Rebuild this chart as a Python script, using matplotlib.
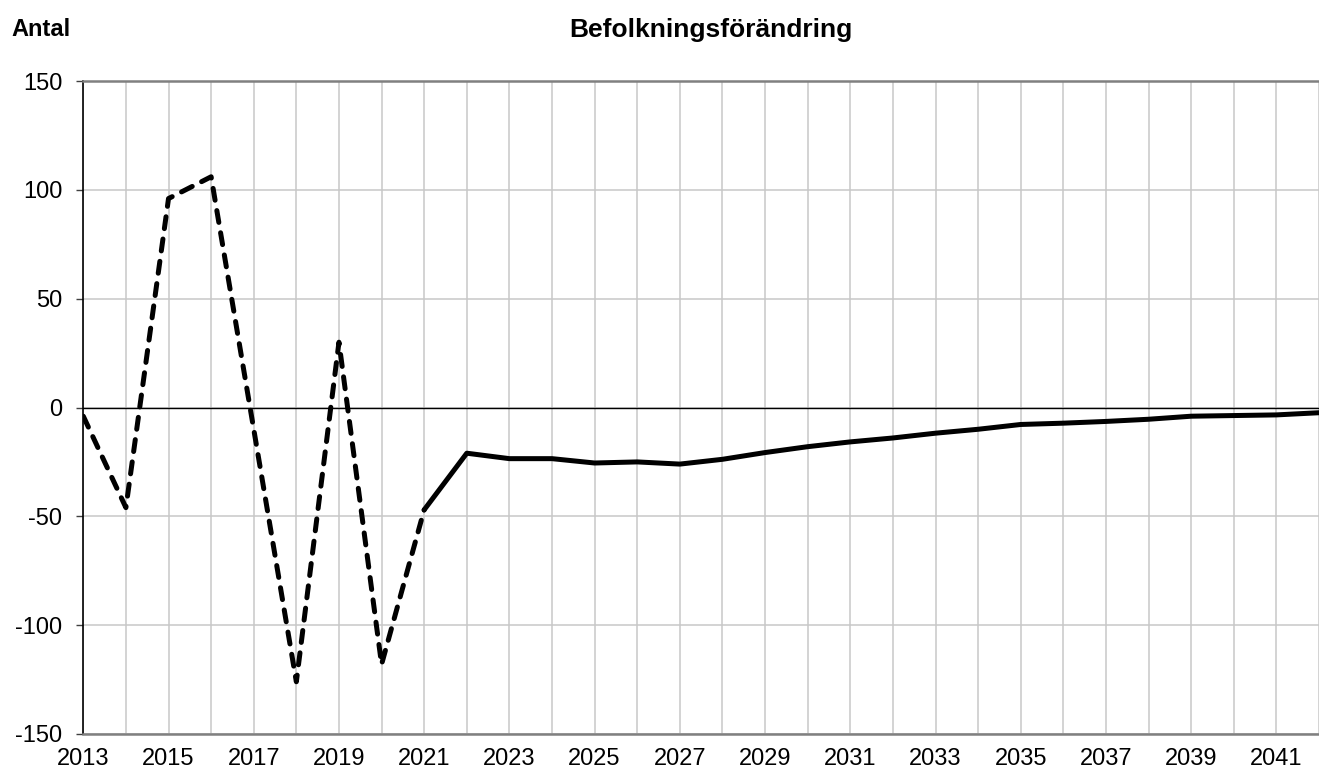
import matplotlib
matplotlib.use("Agg")
import matplotlib.pyplot as plt
import numpy as np

plt.rcParams['font.family'] = ['Liberation Sans', 'DejaVu Sans']

# utfall (streckad) och prognos (heldragen)
hist_years = list(range(2013, 2022))
hist_vals = [-4, -46, 96, 106, -10, -126, 30, -118, -47]

prog_years = list(range(2021, 2043))
prog_vals = [-47, -21, -23.5, -23.5, -25.5, -25, -26, -23.8, -20.7, -18,
             -15.8, -14, -11.8, -10, -7.8, -7.2, -6.4, -5.4, -4, -3.7,
             -3.4, -2.4]

y_ticks = [-150, -100, -50, 0, 50, 100, 150]
y_labels = ["-150", "-100", "-50", "0", "50", "100", "150"]
all_years = list(range(2013, 2043))
x_labels = [str(y) if (y - 2013) % 2 == 0 else "" for y in all_years]

title = "Befolkningsförändring"
ylab = "Antal"

fig = plt.figure(figsize=(13.19, 7.73), dpi=100)
ax = fig.add_axes([83.3 / 1319, 1 - 734 / 773, 1 - 83.3 / 1319, (734 - 81) / 773])

ax.set_xlim(2013, 2041.70)
ax.set_ylim(-150, 150)

ax.set_yticks(y_ticks)
ax.set_yticklabels(y_labels)
ax.set_xticks(all_years)
ax.set_xticklabels(x_labels)

ax.grid(True, color="#c8c8c8", linewidth=1.1)
ax.set_axisbelow(True)
ax.axhline(0, color="black", linewidth=1.0, zorder=2)

ax.plot(hist_years, hist_vals, color="black", linewidth=3.6,
        linestyle=(0, (2.4, 2.1)), dash_capstyle="round",
        dash_joinstyle="round", zorder=3)
ax.plot(prog_years, prog_vals, color="black", linewidth=3.6,
        solid_capstyle="round", solid_joinstyle="round", zorder=3)

for s in ["top", "bottom"]:
    ax.spines[s].set_color("#808080")
    ax.spines[s].set_linewidth(1.8)
ax.spines["right"].set_visible(False)
ax.spines["left"].set_color("black")
ax.spines["left"].set_linewidth(1.2)

ax.tick_params(axis="y", length=5, width=1, color="#404040", pad=10,
               labelsize=17)
ax.tick_params(axis="x", length=0, pad=10, labelsize=17)

fig.text(710.5 / 1319, 1 - 36.5 / 773, title, ha="center", va="baseline",
         fontsize=19, fontweight="bold")
fig.text(11 / 1319, 1 - 35.5 / 773, ylab, ha="left", va="baseline",
         fontsize=17, fontweight="bold")

fig.savefig("out.png", dpi=100)
